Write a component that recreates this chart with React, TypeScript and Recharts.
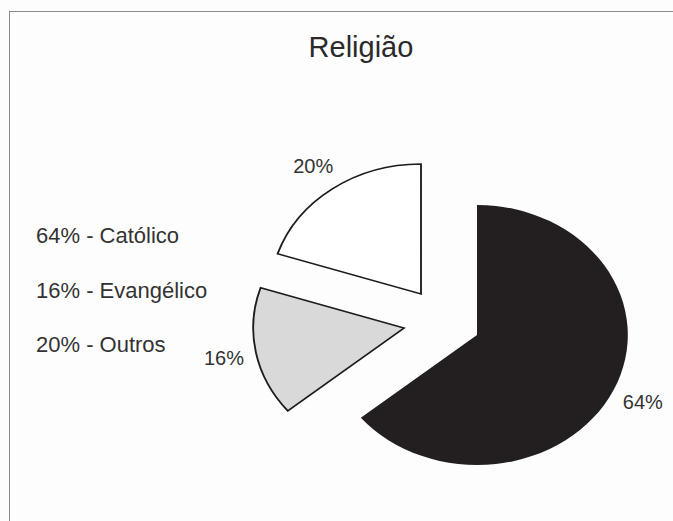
import { PieChart, Pie, Cell } from "recharts"

// religião - exploded pie, slices clockwise from 12 o'clock
const categories = ["Católico", "Evangélico", "Outros"]
const shares = [64, 16, 20]
const sliceColors = ["#231f20", "#d9d9d9", "#ffffff"]

const W = 673
const H = 521
const SX = 1.16 // the original pie is a bit wider than tall
const R = 130
const FONT = '"Liberation Sans", Arial, Helvetica, sans-serif'

// where each pulled-out slice has its tip, in page pixels
const tips = [
  { x: 477, y: 335 },
  { x: 404, y: 328 },
  { x: 421, y: 294 },
]

const data = categories.map((name, i) => ({ name, value: shares[i] }))

function sliceLabel(own: number) {
  return (props: any) => {
    if (props.index !== own) return null
    const rad = Math.PI / 180
    const r = props.outerRadius + 28
    const x = props.cx + r * Math.cos(-props.midAngle * rad)
    const y = props.cy + r * Math.sin(-props.midAngle * rad)
    return (
      <text
        x={x}
        y={y}
        textAnchor="middle"
        dominantBaseline="central"
        fontSize={20}
        fontFamily={FONT}
        fill="#333"
        transform={`translate(${x} ${y}) scale(${1 / SX} 1) translate(${-x} ${-y})`}
      >
        {props.value}%
      </text>
    )
  }
}

export default function App() {
  return (
    <div
      style={{
        position: "absolute",
        left: 0,
        top: 0,
        width: W,
        height: H,
        background: "#fdfdfd",
        overflow: "hidden",
      }}
    >
      <div
        style={{
          position: "absolute",
          left: 9,
          top: 11,
          width: W,
          height: H,
          borderLeft: "1.5px solid #8a8a8a",
          borderTop: "1.5px solid #8a8a8a",
        }}
      />
      <div
        style={{
          position: "absolute",
          left: 0,
          top: 0,
          width: Math.round(W / SX),
          height: H,
          transform: `scaleX(${SX})`,
          transformOrigin: "0 0",
        }}
      >
        <PieChart
          width={Math.round(W / SX)}
          height={H}
          margin={{ top: 0, right: 0, bottom: 0, left: 0 }}
        >
          {tips.map((tip, k) => (
            <Pie
              key={k}
              data={data}
              dataKey="value"
              nameKey="name"
              cx={tip.x / SX}
              cy={tip.y}
              outerRadius={R}
              startAngle={90}
              endAngle={-270}
              isAnimationActive={false}
              labelLine={false}
              label={sliceLabel(k)}
            >
              {data.map((_, i) => (
                <Cell
                  key={i}
                  fill={i === k ? sliceColors[i] : "none"}
                  stroke={i === k && i !== 0 ? "#1c1c1c" : "none"}
                  strokeWidth={1.6}
                />
              ))}
            </Pie>
          ))}
        </PieChart>
      </div>
      <svg
        width={W}
        height={H}
        style={{ position: "absolute", left: 0, top: 0, pointerEvents: "none" }}
      >
        <text x={361} y={57} textAnchor="middle" fontSize={29} fontFamily={FONT} fill="#2a2a2a">
          Religião
        </text>
        {categories.map((name, i) => (
          <text key={name} x={36} y={243 + i * 54.5} fontSize={22} fontFamily={FONT} fill="#333">
            {`${shares[i]}% - ${name}`}
          </text>
        ))}
      </svg>
    </div>
  )
}
